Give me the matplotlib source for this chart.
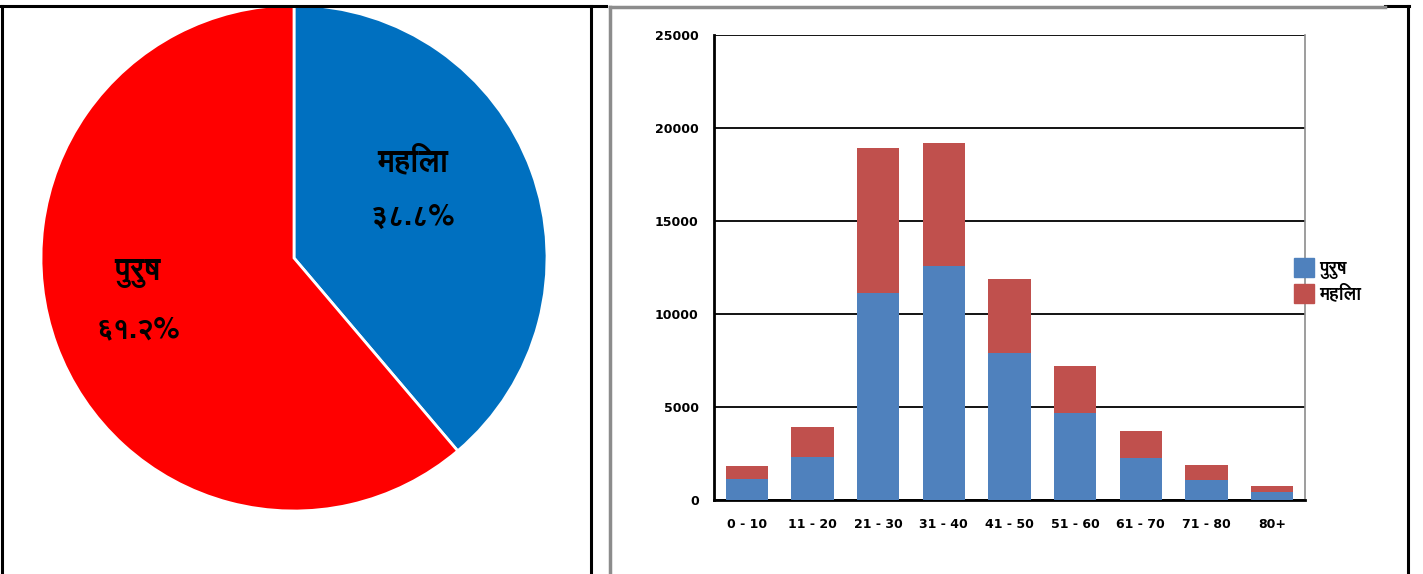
import matplotlib
matplotlib.use("Agg")
import matplotlib.pyplot as plt
import matplotlib.patheffects as pe
import numpy as np
from matplotlib import font_manager
from matplotlib.ft2font import FT2Font
from matplotlib.lines import Line2D
from matplotlib.patches import Patch

# Data
pie_labels = ["महिला", "पुरुष"]
pie_pct_text = ["३८.८%", "६१.२%"]
pie_shares = [38.8, 61.2]

age_groups = ["0 - 10", "11 - 20", "21 - 30", "31 - 40", "41 - 50",
              "51 - 60", "61 - 70", "71 - 80", "80+"]
male = [1130, 2310, 11130, 12580, 7900, 4680, 2260, 1080, 430]
female = [700, 1610, 7800, 6610, 3980, 2520, 1450, 800, 320]
legend_labels = ["पुरुष", "महिला"]
y_ticks = [0, 5000, 10000, 15000, 20000, 25000]


def find_devanagari_font():
    # look for installed fonts that have Devanagari glyphs,
    # prefer a family that also ships a bold face
    found = {}
    for f in font_manager.fontManager.ttflist:
        try:
            cmap = FT2Font(f.fname).get_charmap()
        except Exception:
            continue
        if 0x092E in cmap and 0x0941 in cmap:
            w = f.weight if isinstance(f.weight, int) else 400
            found.setdefault(f.name, []).append(w)
    for name, weights in found.items():
        if max(weights) >= 600:
            return name, True
    for name in found:
        return name, False
    return None, False


deva, has_bold = find_devanagari_font()
families = ([deva] if deva else []) + ["DejaVu Sans"]
plt.rcParams["font.family"] = families
# fake a heavier stroke when the font has no bold face
fatten = [] if has_bold else [pe.withStroke(linewidth=1.1, foreground="black")]

W, H = 1423, 574
fig = plt.figure(figsize=(W / 100, H / 100), dpi=100)


def fx(px):
    return px / W


def fy(py):
    return 1 - py / H


# table borders
border = dict(transform=fig.transFigure, color="black", lw=2.2)
fig.add_artist(Line2D([fx(0), fx(606)], [fy(6), fy(6)], **border))
fig.add_artist(Line2D([fx(2), fx(2)], [fy(6), fy(574)], **border))
fig.add_artist(Line2D([fx(591), fx(591)], [fy(6), fy(574)], **border))
fig.add_artist(Line2D([fx(1385), fx(1409)], [fy(6), fy(6)], **border))
fig.add_artist(Line2D([fx(1408), fx(1408)], [fy(6), fy(574)], **border))
gray = dict(transform=fig.transFigure, color="#8c8c8c", lw=2.5)
fig.add_artist(Line2D([fx(610), fx(610)], [fy(7), fy(574)], **gray))
fig.add_artist(Line2D([fx(610), fx(1385)], [fy(7), fy(7)], **gray))

# pie chart
cx, cy, r = 294, 258, 253
ax1 = fig.add_axes([fx(cx - r), fy(cy + r), 2 * r / W, 2 * r / H])
ax1.pie(pie_shares, colors=["#0070C0", "#FF0000"], startangle=90,
        counterclock=False, radius=1,
        wedgeprops=dict(edgecolor="white", linewidth=2))
ax1.set_xlim(-1, 1)
ax1.set_ylim(-1, 1)
ax1.set_aspect("auto")
ax1.axis("off")

label_pos = [(413, 162, 217), (138, 273, 330)]
for (px, py1, py2), name, pct in zip(label_pos, pie_labels, pie_pct_text):
    fig.text(fx(px), fy(py1), name, ha="center", va="center",
             fontsize=22, fontweight="bold", path_effects=fatten)
    fig.text(fx(px), fy(py2), pct, ha="center", va="center",
             fontsize=21, fontweight="bold", path_effects=fatten)

# stacked bar chart
ax2 = fig.add_axes([fx(714), fy(500), (1305 - 714) / W, (500 - 35) / H])
x = np.arange(len(age_groups))
ax2.bar(x, male, width=0.64, color="#4F81BD", zorder=3)
ax2.bar(x, female, width=0.64, bottom=male, color="#C0504D", zorder=3)
ax2.set_xlim(-0.5, len(age_groups) - 0.5)
ax2.set_ylim(0, 25000)
ax2.set_yticks(y_ticks)
ax2.set_yticklabels([str(t) for t in y_ticks])
ax2.set_xticks(x)
ax2.set_xticklabels(age_groups)
ax2.yaxis.grid(True, color="black", lw=1.3, zorder=0)
ax2.tick_params(axis="both", length=0, labelsize=9)
ax2.tick_params(axis="y", pad=11)
ax2.tick_params(axis="x", pad=13)
for lab in ax2.get_xticklabels() + ax2.get_yticklabels():
    lab.set_fontweight("bold")
    lab.set_family("DejaVu Sans")
for side in ["left", "bottom"]:
    ax2.spines[side].set_color("black")
    ax2.spines[side].set_linewidth(2)
ax2.spines["right"].set_color("#8c8c8c")
ax2.spines["right"].set_linewidth(1.2)
ax2.spines["top"].set_visible(False)

handles = [Patch(facecolor="#4F81BD", edgecolor="#4F81BD"),
           Patch(facecolor="#C0504D", edgecolor="#C0504D")]
leg = fig.legend(handles, legend_labels, loc="center left",
                 bbox_to_anchor=(fx(1287), fy(281)), frameon=False,
                 handlelength=1.1, handleheight=1.2, handletextpad=0.3,
                 labelspacing=0.3, borderaxespad=0,
                 prop=dict(size=13, weight="bold"))
for t in leg.get_texts():
    t.set_path_effects([pe.withStroke(linewidth=0.6, foreground="black")]
                       if not has_bold else [])

fig.savefig("out.png", dpi=100)
